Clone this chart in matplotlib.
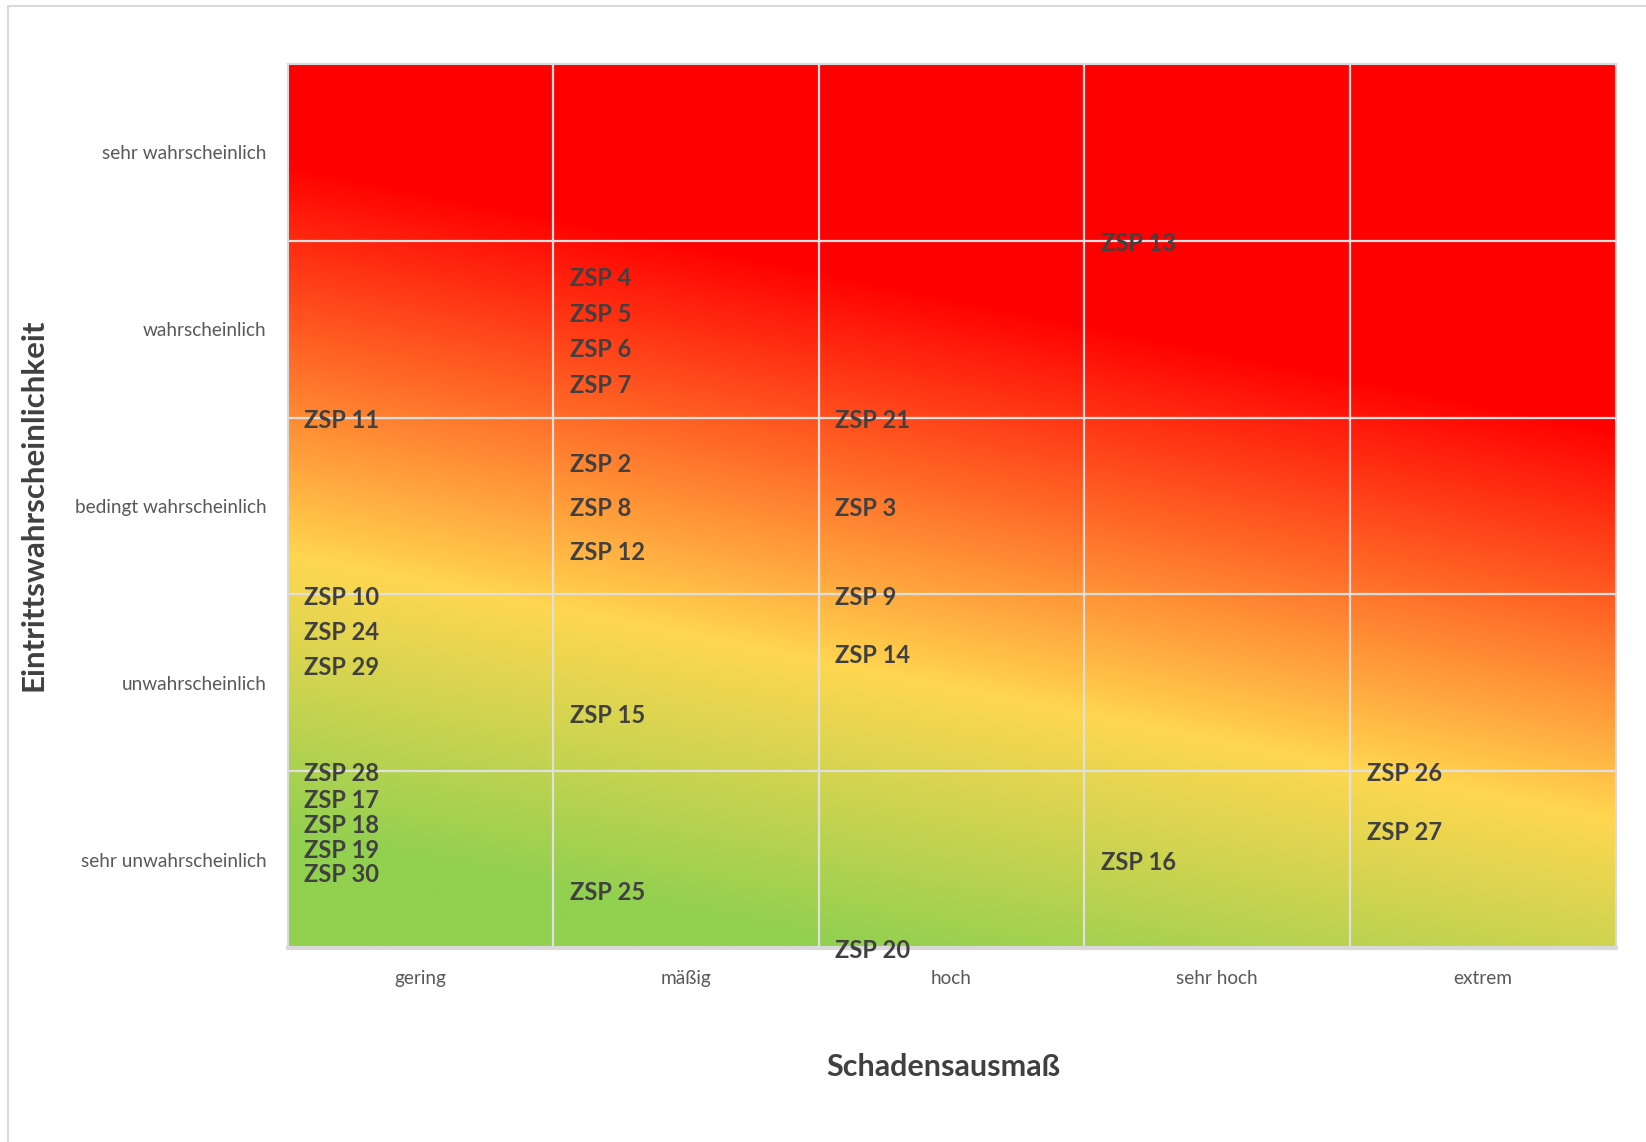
import numpy as np
import matplotlib.pyplot as plt
from matplotlib.patches import Rectangle

plt.rcParams['font.family'] = ['Lato', 'DejaVu Sans']

x_labels = ["gering", "mäßig", "hoch", "sehr hoch", "extrem"]
y_labels = ["sehr unwahrscheinlich", "unwahrscheinlich", "bedingt wahrscheinlich",
            "wahrscheinlich", "sehr wahrscheinlich"]

# risk points: (name, Schadensausmaß, Eintrittswahrscheinlichkeit), axis 0..5
names = ["ZSP 4", "ZSP 5", "ZSP 6", "ZSP 7", "ZSP 11", "ZSP 21", "ZSP 13",
         "ZSP 2", "ZSP 8", "ZSP 12", "ZSP 3", "ZSP 10", "ZSP 24", "ZSP 29",
         "ZSP 9", "ZSP 14", "ZSP 15", "ZSP 28", "ZSP 17", "ZSP 18", "ZSP 19",
         "ZSP 30", "ZSP 25", "ZSP 20", "ZSP 16", "ZSP 26", "ZSP 27"]
damage = [1, 1, 1, 1, 0, 2, 3,
          1, 1, 1, 2, 0, 0, 0,
          2, 2, 1, 0, 0, 0, 0,
          0, 1, 2, 3, 4, 4]
likelihood = [3.8, 3.6, 3.4, 3.2, 3.0, 3.0, 4.0,
              2.75, 2.5, 2.25, 2.5, 2.0, 1.8, 1.6,
              2.0, 1.67, 1.33, 1.0, 0.85, 0.71, 0.57,
              0.43, 0.33, 0.0, 0.5, 1.0, 0.67]

W, H = 1646, 1142
fig = plt.figure(figsize=(W / 100, H / 100), dpi=100)

# outer chart frame (only left/top visible)
fig.patches.append(Rectangle((8.4 / W, -0.05), 1.2, 1 - 6.3 / H + 0.05,
                             transform=fig.transFigure, fill=False,
                             edgecolor='#d9d9d9', linewidth=1.5))

ax = fig.add_axes([287.6 / W, 1 - 948 / H, (1615.5 - 287.6) / W, (948 - 64) / H])

# diagonal background gradient green -> yellow -> red
gx, gy = np.meshgrid(np.linspace(0, 5, 600), np.linspace(0, 5, 400))
s = 50.6 * gx + 168.4 * gy
stops = [108, 373, 748]
green = np.array([146, 208, 80]) / 255
yellow = np.array([255, 215, 80]) / 255
red = np.array([255, 0, 0]) / 255
img = np.zeros(gx.shape + (3,))
for c in range(3):
    img[..., c] = np.interp(s, stops, [green[c], yellow[c], red[c]])
ax.imshow(img, extent=[0, 5, 0, 5], origin='lower', aspect='auto',
          interpolation='bilinear', zorder=0)

ax.set_xlim(0, 5)
ax.set_ylim(0, 5)
for v in range(1, 5):
    ax.axvline(v, color='#e0e0e0', lw=1.6, zorder=1)
    ax.axhline(v, color='#e0e0e0', lw=1.6, zorder=1)
for sp in ax.spines.values():
    sp.set_color('#d9d9d9')
    sp.set_linewidth(1.5)
ax.spines['bottom'].set_linewidth(3)

ax.set_xticks(np.arange(5) + 0.5)
ax.set_xticklabels(x_labels)
ax.set_yticks(np.arange(5) + 0.5)
ax.set_yticklabels(y_labels)
ax.tick_params(length=0, labelsize=13.7, labelcolor='#595959')
ax.tick_params(axis='x', pad=16)
ax.tick_params(axis='y', pad=15)

for n, xv, yv in zip(names, damage, likelihood):
    ax.annotate(n, (xv, yv), xytext=(12, -2), textcoords='offset points',
                ha='left', va='center', fontsize=17, fontweight='bold',
                color='#404040', annotation_clip=False, zorder=3)

fig.text(943.7 / W, 1 - 1067.5 / H, "Schadensausmaß", ha='center', va='center',
         fontsize=22, fontweight='bold', color='#404040')
fig.text(33.6 / W, 1 - 505 / H, "Eintrittswahrscheinlichkeit", ha='center',
         va='center', rotation=90, fontsize=22.5, fontweight='bold', color='#404040')

fig.savefig("out.png", dpi=100)
